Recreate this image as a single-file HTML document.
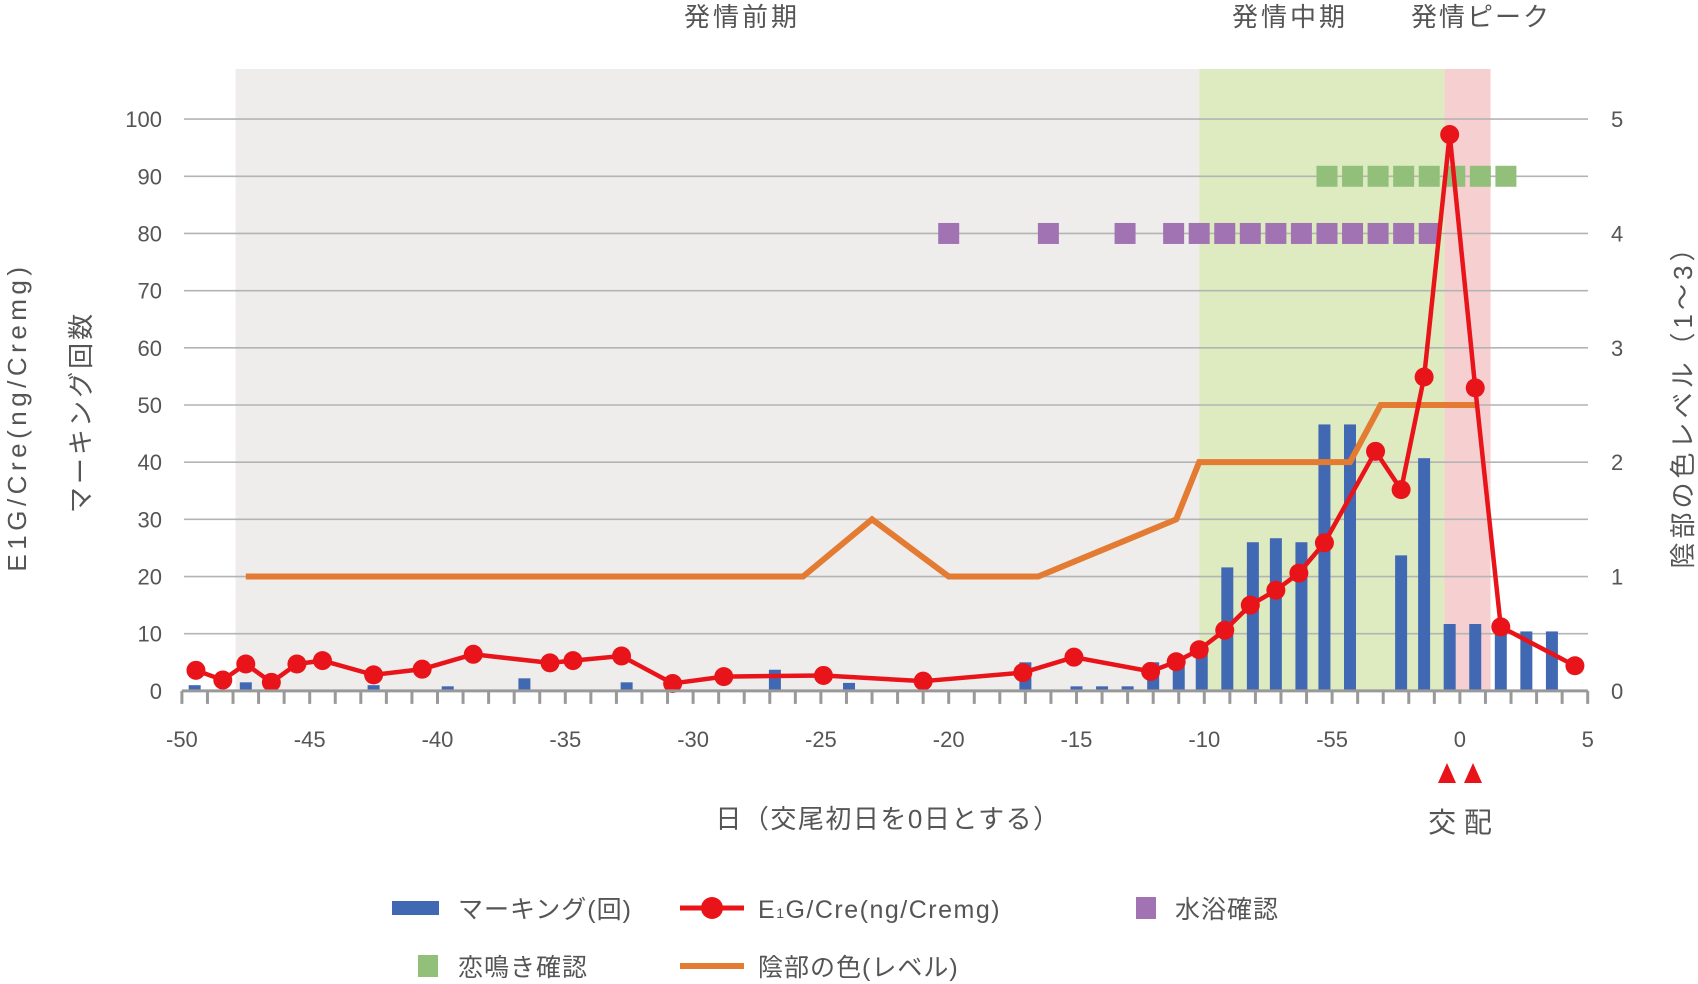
<!DOCTYPE html>
<html><head><meta charset="utf-8"><style>
html,body{margin:0;padding:0;background:#fff;}
svg{display:block;font-family:"Liberation Sans","Noto Sans CJK JP",sans-serif;}
</style></head><body>
<svg id="chart" width="1698" height="984" viewBox="0 0 1698 984">
<g id="bg"></g>
<g id="grid"></g>
<g id="bars"></g>
<g id="lines"></g>
<g id="marks"></g>
<g id="axes"></g>
<g id="texts" fill="#555">
<text x="742" y="26" font-size="26" text-anchor="middle" letter-spacing="3">発情前期</text>
<text x="1290" y="26" font-size="26" text-anchor="middle" letter-spacing="3">発情中期</text>
<text x="1481" y="26" font-size="26" text-anchor="middle" letter-spacing="2">発情ピーク</text>
<text transform="translate(26,417) rotate(-90)" font-size="26" text-anchor="middle" letter-spacing="4.5">E1G/Cre(ng/Cremg)</text>
<text transform="translate(90,412) rotate(-90)" font-size="26" text-anchor="middle" letter-spacing="3">マーキング回数</text>
<text transform="translate(1692,400) rotate(-90)" font-size="26" text-anchor="middle" letter-spacing="4">陰部の色レベル（1～3）</text>
<text x="888" y="828" font-size="26" text-anchor="middle" letter-spacing="1.5">日（交尾初日を0日とする）</text>
<text x="1460" y="832" font-size="28" text-anchor="middle">交 配</text>
<polygon points="1438,783 1447,763 1456,783" fill="#e8141a"/>
<polygon points="1464,783 1473,763 1482,783" fill="#e8141a"/>
</g>
<g id="legend" fill="#555" font-size="25">
<g><rect x="392" y="901" width="47" height="14" fill="#4169b3"/><text x="458" y="918" letter-spacing="1">マーキング(回)</text></g>
<g><line x1="680" y1="908" x2="744" y2="908" stroke="#e8141a" stroke-width="5"/><circle cx="712" cy="908" r="11" fill="#e8141a"/><text x="758" y="918" letter-spacing="1.5">E<tspan font-size="14">1</tspan>G/Cre(ng/Cremg)</text></g>
<g><rect x="1136" y="897" width="20" height="22" fill="#a173b2"/><text x="1175" y="918" letter-spacing="1">水浴確認</text></g>
<g><rect x="418" y="955" width="20" height="22" fill="#92c07a"/><text x="458" y="976" letter-spacing="1">恋鳴き確認</text></g>
<g><line x1="680" y1="966" x2="744" y2="966" stroke="#e47b32" stroke-width="6"/><text x="758" y="976" letter-spacing="1">陰部の色(レベル)</text></g>
</g>
</svg>
<script>
// ---- data ----
const xTicks = [-50,-45,-40,-35,-30,-25,-20,-15,-10,-5,0,5];
const xTickLabels = ["-50","-45","-40","-35","-30","-25","-20","-15","-10","-55","0","5"];
const yTicks = [0,10,20,30,40,50,60,70,80,90,100];
const y2Ticks = [0,1,2,3,4,5];
const phaseStarts = [-47.9,-10.2,-0.6];
const phaseEnds = [-10.2,-0.6,1.2];
const phaseColors = ["#eeedeb","#deebc0","#f6cfd0"];
const barDays = [-49.5,-47.5,-42.5,-39.6,-36.6,-32.6,-26.8,-23.9,-17,-15,-14,-13,-12,-11,-10.1,-9.1,-8.1,-7.2,-6.2,-5.3,-4.3,-2.3,-1.4,-0.4,0.6,1.6,2.6,3.6];
const barValues = [1,1.5,1,0.8,2.2,1.5,3.7,1.4,5,0.8,0.8,0.8,5,5,8,21.6,26,26.7,26,46.6,46.6,23.7,40.7,11.7,11.7,10.4,10.4,10.4];
const e1gDays = [-49.45,-48.4,-47.5,-46.5,-45.5,-44.5,-42.5,-40.6,-38.6,-35.6,-34.7,-32.8,-30.8,-28.8,-24.9,-21.0,-17.1,-15.1,-12.1,-11.1,-10.2,-9.2,-8.2,-7.2,-6.3,-5.3,-3.3,-2.3,-1.4,-0.4,0.6,1.6,4.5];
const e1gValues = [3.6,1.9,4.7,1.5,4.7,5.3,2.8,3.8,6.4,4.9,5.3,6.1,1.3,2.5,2.7,1.7,3.2,5.9,3.4,5.1,7.2,10.6,15.0,17.6,20.6,25.9,41.9,35.2,54.9,97.3,53.0,11.2,4.4];
const levelDays = [-47.5,-25.7,-23.0,-20.0,-16.5,-11.1,-10.2,-4.3,-3.1,0.6];
const levelValues = [1,1,1.5,1,1,1.5,2,2,2.5,2.5];
const bathDays = [-20,-16.1,-13.1,-11.2,-10.2,-9.2,-8.2,-7.2,-6.2,-5.2,-4.2,-3.2,-2.2,-1.2];
const bathValue = 80;
const callDays = [-5.2,-4.2,-3.2,-2.2,-1.2,-0.2,0.8,1.8];
const callValue = 90;
// ---- scales ----
const X0=181.9, PXD=25.56, Y0=690.9, PXV=5.718;
const X = d => X0 + (d+50)*PXD;
const Y = v => Y0 - v*PXV;
const Y2 = v => Y(v*20);
const NS="http://www.w3.org/2000/svg";
function mk(parent, tag, attrs){const e=document.createElementNS(NS,tag);for(const k in attrs)e.setAttribute(k,attrs[k]);document.getElementById(parent).appendChild(e);return e;}
phaseStarts.forEach((s,i)=>{
  const r=mk('bg','rect',{x:X(s),y:69,width:X(phaseEnds[i])-X(s),height:Y0-69,fill:phaseColors[i]});
  
  
});
yTicks.forEach(v=>{
  const l=mk('grid','line',{x1:184,x2:1588,y1:Y(v),y2:Y(v),stroke:'#b4b4b4','stroke-width':1.6});
  
  
  const t=mk('axes','text',{x:162,y:Y(v)+8,'font-size':22,'text-anchor':'end',fill:'#555'});
  t.textContent=String(v);
  
  
});
y2Ticks.forEach(v=>{
  const t=mk('axes','text',{x:1611,y:Y2(v)+8,'font-size':22,'text-anchor':'start',fill:'#555'});
  t.textContent=String(v);
  
  
});
barDays.forEach((d,i)=>{
  const r=mk('bars','rect',{x:X(d)-6,y:Y(barValues[i]),width:12,height:Y0-Y(barValues[i]),fill:'#4169b3'});
  
  
});
const lv=mk('lines','polyline',{points:levelDays.map((d,i)=>X(d)+','+Y2(levelValues[i])).join(' '),fill:'none',stroke:'#e47b32','stroke-width':6,'stroke-linejoin':'miter'});


bathDays.forEach(d=>{
  const r=mk('marks','rect',{x:X(d)-10.5,y:Y(bathValue)-10.5,width:21,height:21,fill:'#a173b2'});
  
  
});
callDays.forEach(d=>{
  const r=mk('marks','rect',{x:X(d)-10.5,y:Y(callValue)-10.5,width:21,height:21,fill:'#92c07a'});
  
  
});
const el=mk('marks','polyline',{points:e1gDays.map((d,i)=>X(d)+','+Y(e1gValues[i])).join(' '),fill:'none',stroke:'#e8141a','stroke-width':4.5});


e1gDays.forEach((d,i)=>{
  const c=mk('marks','circle',{cx:X(d),cy:Y(e1gValues[i]),r:9.5,fill:'#e8141a'});
  
  
});
const ax=mk('axes','line',{x1:X(-50),x2:X(5),y1:Y0,y2:Y0,stroke:'#999','stroke-width':3});


for(let d=-50; d<=5; d++){
  const tk=mk('axes','line',{x1:X(d),x2:X(d),y1:Y0,y2:Y0+13,stroke:'#999','stroke-width':3});
  
  
}
xTicks.forEach((d,i)=>{
  const t=mk('axes','text',{x:X(d),y:747,'font-size':22,'text-anchor':'middle',fill:'#555'});
  t.textContent=xTickLabels[i];
  
  
});
</script>
</body></html>
